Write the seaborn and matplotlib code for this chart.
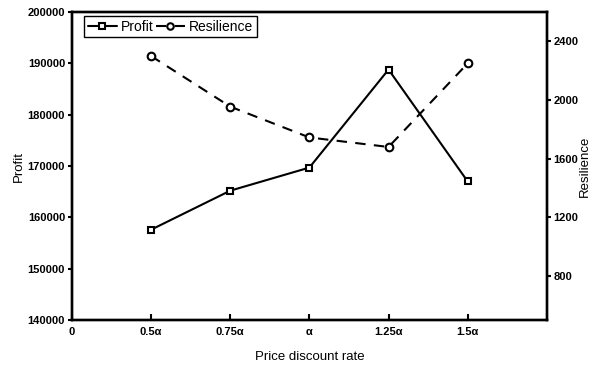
import numpy as np
import pandas as pd
import matplotlib
matplotlib.use("Agg")
import matplotlib.pyplot as plt
import seaborn as sns

# values
positions = [1, 2, 3, 4, 5]
tick_labels = ["0", "0.5α", "0.75α", "α", "1.25α", "1.5α"]
profit = [157600, 165200, 169700, 188800, 167000]
resilience = [2300, 1955, 1745, 1680, 2250]

sns.set_style("ticks")
plt.rcParams['font.family'] = ['Liberation Sans', 'DejaVu Sans']
plt.rcParams['text.color'] = 'black'
plt.rcParams['axes.labelcolor'] = 'black'
plt.rcParams['xtick.color'] = 'black'
plt.rcParams['ytick.color'] = 'black'

df = pd.DataFrame({"pos": positions, "Profit": profit, "Resilience": resilience})

fig = plt.figure(figsize=(5.95, 3.66), dpi=100)
ax = fig.add_axes([0.121, 0.1257, 0.798, 0.8413])
ax2 = ax.twinx()

sns.lineplot(data=df, x="pos", y="Profit", ax=ax, color="black", lw=1.5,
             marker="s", markersize=4.8, markerfacecolor="white",
             markeredgecolor="black", markeredgewidth=1.5, label="Profit", legend=False)
sns.lineplot(data=df, x="pos", y="Resilience", ax=ax2, color="black", lw=1.5,
             linestyle=(0, (5, 4)), marker="o", markersize=5.5, markerfacecolor="white",
             markeredgecolor="black", markeredgewidth=1.5, label="Resilience", legend=False)

ax.set_xlim(0, 6)
ax.set_xticks(range(len(tick_labels)))
ax.set_xticklabels(tick_labels)
ax.set_ylim(140000, 200000)
ax.set_yticks(np.arange(140000, 200001, 10000))
ax2.set_ylim(500, 2600)
ax2.set_yticks([800, 1200, 1600, 2000, 2400])

ax.set_xlabel("Price discount rate", fontsize=9.5, labelpad=10)
ax.set_ylabel("Profit", fontsize=9.5, labelpad=2)
ax2.set_ylabel("Resilience", fontsize=9.5, labelpad=0)

for a in (ax, ax2):
    for s in a.spines.values():
        s.set_linewidth(1.7)
        s.set_color("black")
    for lab in a.get_xticklabels() + a.get_yticklabels():
        lab.set_fontweight("bold")
        lab.set_fontsize(8)
ax.tick_params(axis="x", direction="in", length=4, width=1.5, pad=5)
ax.tick_params(axis="y", direction="out", length=3, width=1.5, pad=2)
ax2.tick_params(axis="y", direction="out", length=3, width=1.5, pad=2)

h1, l1 = ax.get_legend_handles_labels()
h2, l2 = ax2.get_legend_handles_labels()
leg = ax2.legend(h1 + h2, l1 + l2, loc="upper left", bbox_to_anchor=(0.02, 0.995),
                 ncol=2, fontsize=10, frameon=True, fancybox=False, edgecolor="black",
                 handlelength=2.1, handletextpad=0.3, columnspacing=0.15,
                 borderpad=0.25, borderaxespad=0.2, markerscale=0.85)
leg.get_frame().set_linewidth(1.0)
leg.get_frame().set_alpha(1)

fig.savefig("out.png", dpi=100)
